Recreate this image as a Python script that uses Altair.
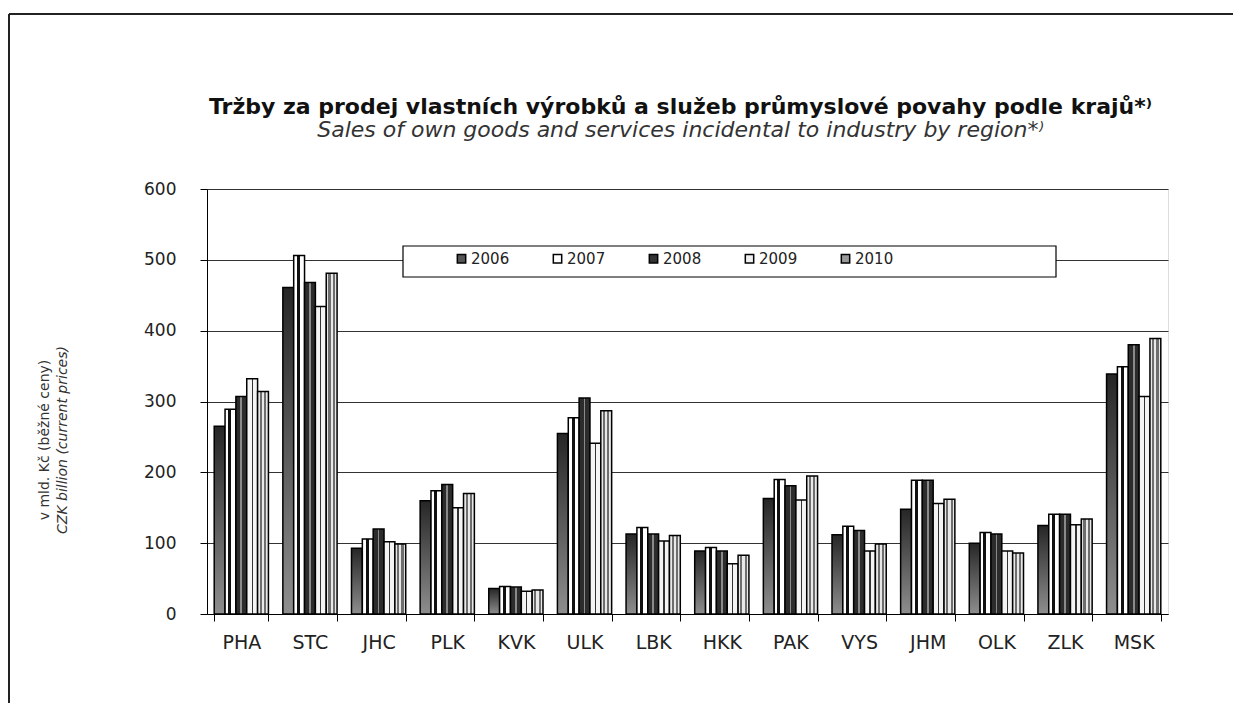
import altair as alt
import pandas as pd

regions = ["PHA", "STC", "JHC", "PLK", "KVK", "ULK", "LBK", "HKK", "PAK", "VYS", "JHM", "OLK", "ZLK", "MSK"]
years = ["2006", "2007", "2008", "2009", "2010"]
v2006 = [265, 461, 93, 160, 36, 255, 113, 89, 163, 112, 148, 100, 125, 339]
v2007 = [289, 506, 106, 174, 39, 277, 122, 94, 190, 124, 189, 115, 141, 349]
v2008 = [307, 468, 120, 183, 38, 305, 113, 89, 181, 118, 189, 113, 141, 380]
v2009 = [332, 434, 102, 150, 32, 241, 103, 71, 161, 89, 156, 89, 126, 307]
v2010 = [314, 481, 99, 170, 34, 287, 111, 83, 195, 99, 162, 86, 134, 389]
y_ticks = [0, 100, 200, 300, 400, 500, 600]

title_cz = "Tržby za prodej vlastních výrobků a služeb průmyslové povahy podle krajů*⁾"
title_en = "Sales of own goods and services incidental to industry by region*⁾"
ytitle_cz = "v mld. Kč (běžné ceny)"
ytitle_en = "CZK billion (current  prices)"

series = [v2006, v2007, v2008, v2009, v2010]
rows = []
for yr, vals in zip(years, series):
    for r, v in zip(regions, vals):
        rows.append({"region": r, "year": yr, "value": v})
df = pd.DataFrame(rows)

FONT = "DejaVu Sans"


def stops(pairs):
    return [{"offset": o, "color": c} for o, c in pairs]


grad = {
    "2006": {"gradient": "linear", "x1": 0, "y1": 0, "x2": 0, "y2": 1,
             "stops": stops([(0, "#262626"), (1, "#8e8e8e")])},
    "2007": {"gradient": "linear", "x1": 0, "y1": 0, "x2": 1, "y2": 0,
             "stops": stops([(0, "#ffffff"), (0.3, "#ffffff"), (0.3, "#111111"), (0.58, "#111111"),
                             (0.58, "#ffffff"), (1, "#ffffff")])},
    "2008": {"gradient": "linear", "x1": 0, "y1": 0, "x2": 1, "y2": 0,
             "stops": stops([(0, "#2c2c2c"), (0.42, "#2c2c2c"), (0.42, "#8a8a8a"), (0.58, "#8a8a8a"),
                             (0.58, "#2c2c2c"), (1, "#2c2c2c")])},
    "2009": {"gradient": "linear", "x1": 0, "y1": 0, "x2": 1, "y2": 0,
             "stops": stops([(0, "#f4f4f4"), (0.44, "#f4f4f4"), (0.44, "#333333"), (0.56, "#333333"),
                             (0.56, "#f4f4f4"), (1, "#f4f4f4")])},
    "2010": {"gradient": "linear", "x1": 0, "y1": 0, "x2": 1, "y2": 0,
             "stops": stops([(0, "#e8e8e8"), (0.2, "#e8e8e8"), (0.2, "#6e6e6e"), (0.4, "#6e6e6e"),
                             (0.4, "#e8e8e8"), (0.6, "#e8e8e8"), (0.6, "#6e6e6e"), (0.8, "#6e6e6e"),
                             (0.8, "#e8e8e8"), (1, "#e8e8e8")])},
}
legend_colors = ["#555555", "#ffffff", "#333333", "#f0f0f0", "#9a9a9a"]

conds = [{"test": f"datum.year === '{y}'", "value": grad[y]} for y in years]

bars = alt.Chart(df).mark_bar(stroke="black", strokeWidth=1.5).encode(
    x=alt.X("region:N", sort=regions, title=None,
            scale=alt.Scale(paddingInner=0.21, paddingOuter=0.105),
            axis=alt.Axis(labelAngle=0, tickBand="extent", tickSize=7, tickColor="black",
                          domainColor="black", labelFont=FONT, labelFontSize=19,
                          labelColor="#222222", labelPadding=12, grid=False)),
    xOffset=alt.XOffset("year:N", sort=years),
    y=alt.Y("value:Q", title=None,
            scale=alt.Scale(domain=[0, 600], nice=False),
            axis=alt.Axis(values=y_ticks, grid=True, gridColor="#333333", gridWidth=1,
                          tickSize=7, tickColor="black", domainColor="black",
                          labelFont=FONT, labelFontSize=17, labelColor="#222222",
                          labelPadding=24)),
    color=alt.Color("year:N", sort=years,
                    scale=alt.Scale(domain=years, range=legend_colors),
                    condition=conds,
                    legend=alt.Legend(title=None, orient="none", direction="horizontal",
                                      columns=5, legendX=247, legendY=62, padding=0,
                                      columnPadding=40, symbolType="square", symbolSize=70,
                                      symbolStrokeColor="black", symbolStrokeWidth=1.5,
                                      labelFont=FONT, labelFontSize=15, labelColor="#222222",
                                      labelOffset=2)),
)

box = alt.Chart(pd.DataFrame({"k": [0]})).mark_rect(fill="white", stroke="black", strokeWidth=1.2).encode(
    x=alt.value(196), x2=alt.value(849), y=alt.value(57), y2=alt.value(88)
)

frame_top = alt.Chart(pd.DataFrame({"k": [0]})).mark_rule(color="#222222", strokeWidth=2).encode(
    x=alt.value(-198), x2=alt.value(1040), y=alt.value(-175)
)
frame_left = alt.Chart(pd.DataFrame({"k": [0]})).mark_rule(color="#222222", strokeWidth=2).encode(
    x=alt.value(-198), y=alt.value(-175), y2=alt.value(520)
)

yt1 = alt.Chart(pd.DataFrame({"t": [ytitle_cz]})).mark_text(
    angle=270, font=FONT, fontSize=14, color="#333333", align="center", baseline="middle"
).encode(text="t:N", x=alt.value(-162), y=alt.value(251))
yt2 = alt.Chart(pd.DataFrame({"t": [ytitle_en]})).mark_text(
    angle=270, font=FONT, fontSize=14, fontStyle="italic", color="#333333", align="center",
    baseline="middle"
).encode(text="t:N", x=alt.value(-144), y=alt.value(251))

chart = alt.layer(frame_top, frame_left, yt1, yt2, bars, box).properties(
    width=961, height=425,
    autosize=alt.AutoSizeParams(type="none"),
    padding={"left": 199, "top": 181, "right": 65, "bottom": 89},
    title=alt.TitleParams(text=title_cz, subtitle=title_en, anchor="middle", frame="group",
                          font=FONT, fontSize=22, fontWeight="bold", color="#111111",
                          subtitleFont=FONT, subtitleFontSize=22, subtitleFontStyle="italic",
                          subtitleColor="#333333", subtitlePadding=1, offset=-129, dx=-7),
).configure_view(stroke="transparent").configure(background="white")

chart.save("out.html", embed_options={"renderer": "svg", "actions": False})
